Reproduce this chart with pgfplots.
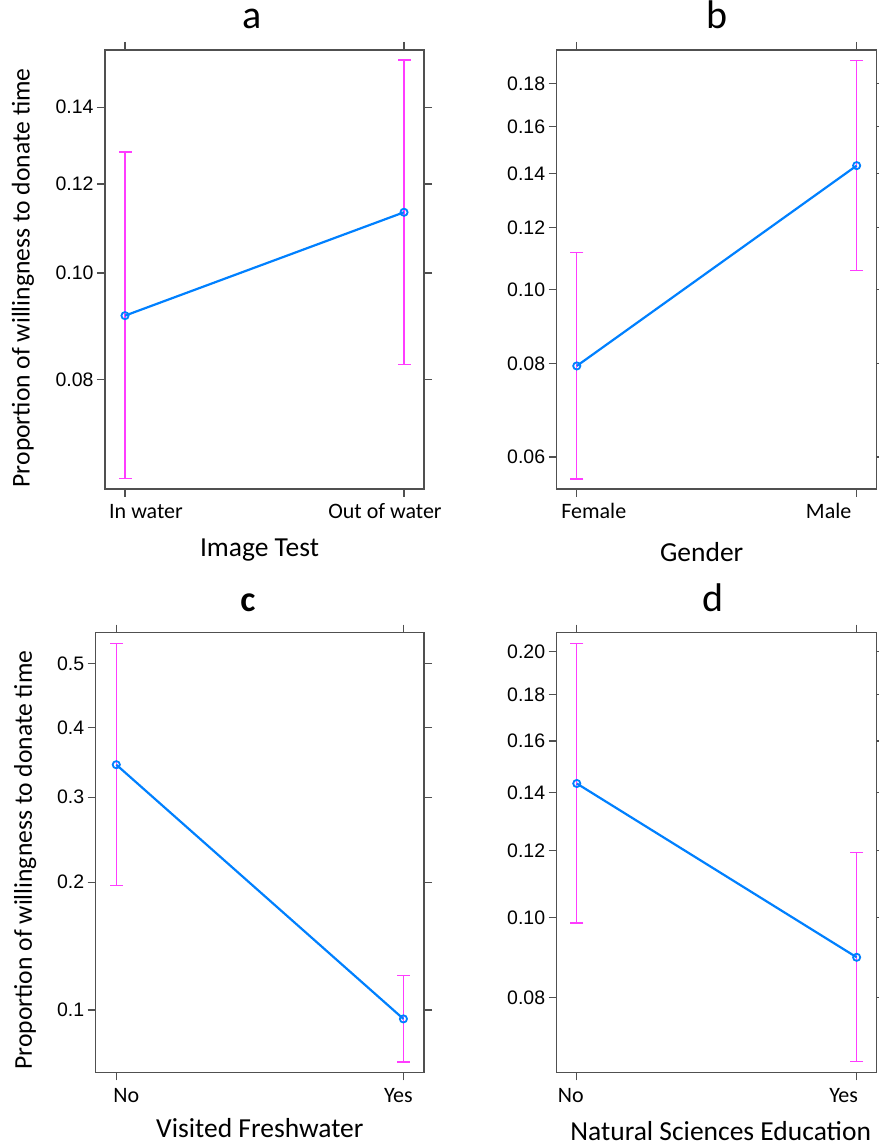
\documentclass[border=0pt]{standalone}
\usepackage{fontspec}
\setmainfont{Carlito}
\newfontfamily\tickfont{Liberation Sans}
\usepackage{pgfplots}
\pgfplotsset{compat=1.18}
\definecolor{lineblue}{RGB}{0,128,255}
\definecolor{barmag}{RGB}{255,60,255}
\definecolor{boxgray}{RGB}{80,80,80}
\pgfplotsset{
  logit/.style={
    y coord trafo/.code={%
      \begingroup\pgfkeys{/pgf/fpu=true,/pgf/fpu/output format=fixed}%
      \pgfmathparse{ln(##1/(1-##1))}\xdef\logitres{\pgfmathresult}\endgroup
      \let\pgfmathresult\logitres},
    y coord inv trafo/.code={%
      \begingroup\pgfkeys{/pgf/fpu=true,/pgf/fpu/output format=fixed}%
      \pgfmathparse{1/(1+exp(-(##1)))}\xdef\logitres{\pgfmathresult}\endgroup
      \let\pgfmathresult\logitres},
  },
  panel/.style={
    scale only axis,
    anchor=south west,
    logit,
    xmin=-0.0717, xmax=1.0717,
    xtick={0,1},
    axis line style={boxgray, line width=1.2pt},
    tick style={boxgray, line width=1.2pt},
    tick align=outside,
    major tick length=8pt,
    xtick pos=both, ytick pos=both,
    xticklabel pos=lower, yticklabel pos=left,
    yticklabel style={font=\tickfont\fontsize{19.5}{22}\selectfont},
    xticklabel style={font=\fontsize{22}{26}\selectfont, anchor=base, yshift=-22pt},
    /pgf/number format/assume math mode=true,
    /pgf/number format/.cd, fixed, fixed zerofill, precision=2,
    /pgfplots/.cd,
    title style={font=\fontsize{40}{44}\selectfont, at={(axis description cs:0.5,1)}, anchor=base, yshift=15pt},
    xlabel style={font=\fontsize{27.5}{30}\selectfont, at={(axis description cs:0.5,0)}, anchor=base},
    ylabel style={font=\fontsize{25.6}{28}\selectfont, anchor=center},
  },
  est/.style={lineblue, line width=2.2pt, mark=o, mark size=3.6pt, mark options={line width=1.8pt}},
  ci/.style={barmag, line width=1.3pt, mark=-, mark size=6.5pt, mark options={line width=1.3pt}},
}
\begin{document}
\begin{tikzpicture}
\useasboundingbox (0pt,0pt) rectangle (878pt,1147pt);
% ---------- a ----------
\begin{axis}[panel,
  at={(105pt,658pt)}, width=319pt, height=439pt,
  ymin=0.0633, ymax=0.1566,
  ytick={0.08,0.10,0.12,0.14},
  xticklabels={\hspace*{42pt}In water, Out of water\hspace*{38pt}},
  title={a}, title style={xshift=-12pt},
  xlabel={Image Test}, xlabel style={yshift=-68pt, xshift=-5pt},
  ylabel={Proportion of willingness to donate time},
  ylabel style={at={(axis description cs:-0.257,0.481)}},
]
\addplot[ci] coordinates {(0,0.0647) (0,0.128)};
\addplot[ci] coordinates {(1,0.0826) (1,0.1536)};
\addplot[est] coordinates {(0,0.0915) (1,0.1133)};
\end{axis}
% ---------- b ----------
\begin{axis}[panel,
  at={(556.7pt,658pt)}, width=320pt, height=439pt,
  ymin=0.0543, ymax=0.1969,
  ytick={0.06,0.08,0.10,0.12,0.14,0.16,0.18},
  xticklabels={\hspace*{34pt}Female, Male\hspace*{56pt}},
  title={b},
  xlabel={Gender}, xlabel style={yshift=-73pt, xshift=-15pt},
]
\addplot[ci] coordinates {(0,0.0560) (0,0.1114)};
\addplot[ci] coordinates {(1,0.1057) (1,0.1915)};
\addplot[est] coordinates {(0,0.0794) (1,0.1433)};
\end{axis}
% ---------- c ----------
\begin{axis}[panel,
  at={(95.7pt,74.7pt)}, width=328.3pt, height=439.6pt,
  ymin=0.0696, ymax=0.549,
  ytick={0.1,0.2,0.3,0.4,0.5},
  yticklabel style={/pgf/number format/precision=1},
  xticklabels={\hspace*{20pt}No, Yes\hspace*{10pt}},
  title={\bfseries c}, title style={xshift=-12pt, font=\fontsize{36}{40}\selectfont},
  xlabel={Visited Freshwater}, xlabel style={yshift=-65pt},
  ylabel={Proportion of willingness to donate time},
  ylabel style={at={(axis description cs:-0.215,0.483)}},
]
\addplot[ci] coordinates {(0,0.1963) (0,0.532)};
\addplot[ci] coordinates {(1,0.0740) (1,0.1214)};
\addplot[est] coordinates {(0,0.345) (1,0.0950)};
\end{axis}
% ---------- d ----------
\begin{axis}[panel,
  at={(556.7pt,74.7pt)}, width=320pt, height=439.6pt,
  ymin=0.0648, ymax=0.2095,
  ytick={0.08,0.10,0.12,0.14,0.16,0.18,0.20},
  xticklabels={No\hspace*{12pt}, Yes\hspace*{26pt}},
  title={d}, title style={xshift=-4pt},
  xlabel={Natural Sciences Education}, xlabel style={yshift=-68pt, xshift=4pt},
]
\addplot[ci] coordinates {(0,0.0985) (0,0.2042)};
\addplot[ci] coordinates {(1,0.0668) (1,0.1194)};
\addplot[est] coordinates {(0,0.1433) (1,0.0896)};
\end{axis}
\end{tikzpicture}
\end{document}
